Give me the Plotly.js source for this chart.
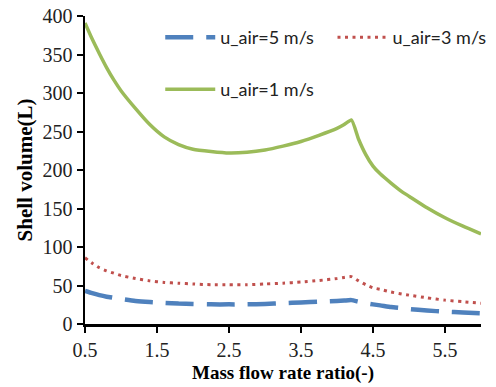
<!DOCTYPE html>
<html>
<head>
<meta charset="utf-8">
<script src="https://cdn.plot.ly/plotly-3.0.1.min.js"></script>
<style>
  html, body { margin: 0; padding: 0; background: #ffffff; }
  #chart { width: 496px; height: 387px; }
</style>
</head>
<body>
<div id="chart"></div>
<script>
// Mass flow rate ratio (-)
const massRatio = [0.5, 0.6, 0.7, 0.8, 0.9, 1.0, 1.2, 1.4, 1.6, 1.8, 2.0, 2.25, 2.5, 2.75, 3.0,
                   3.25, 3.5, 3.75, 4.0, 4.1, 4.2, 4.3, 4.4, 4.5, 4.6, 4.75, 4.9, 5.0, 5.25, 5.5, 5.75, 6.0];

// Shell volume (L) for each air velocity
const volAir5 = [43, 40, 37.5, 35.5, 34, 32.5, 30, 28.5, 27.5, 26.5, 26, 25.5, 25.5, 25.5, 26,
                 27, 28, 29, 30, 30.5, 31, 29, 27, 25.5, 24.2, 22, 20.5, 19.5, 17.5, 16, 15, 14];
const volAir3 = [86, 79, 73, 69, 66, 63, 59, 56, 54, 53, 52, 51, 51, 51, 52,
                 53, 54.5, 56.5, 59, 60.5, 61.5, 56, 51, 47, 45, 41.5, 39, 37.5, 34, 31, 29, 27];
const volAir1 = [391, 370, 351, 333, 317, 303, 280, 259, 243, 233, 227, 224, 222, 223, 226,
                 231, 237, 245, 254, 259, 265, 240, 220, 205, 195, 183, 172, 166, 151, 138, 127, 117];

const seriesNames = ['u_air=5 m/s', 'u_air=3 m/s', 'u_air=1 m/s'];
const xTicks = [0.5, 1.5, 2.5, 3.5, 4.5, 5.5];
const yTicks = [0, 50, 100, 150, 200, 250, 300, 350, 400];

const serif = 'Liberation Serif, Times New Roman, serif';
const sans = 'Lato, Noto Sans, sans-serif';

const traces = [
  { x: massRatio, y: volAir5, name: seriesNames[0], mode: 'lines', legend: 'legend',
    line: { color: '#4F81BD', width: 4.5, dash: '28px,13px', shape: 'spline', smoothing: 0.5 } },
  { x: massRatio, y: volAir3, name: seriesNames[1], mode: 'lines', legend: 'legend2',
    line: { color: '#C0504D', width: 3, dash: '3px,4.5px', shape: 'spline', smoothing: 0.5 } },
  { x: massRatio, y: volAir1, name: seriesNames[2], mode: 'lines', legend: 'legend3',
    line: { color: '#9BBB59', width: 3.5, shape: 'spline', smoothing: 0.5 } }
];

const axisCommon = {
  showgrid: false, zeroline: false, showline: true, linecolor: '#000000', linewidth: 2.5,
  ticks: 'outside', ticklen: 6, tickwidth: 2, tickcolor: '#000000',
  tickfont: { family: serif, size: 20, color: '#222222' }
};

// one single-entry legend per series, laid out as two rows
const legendBox = (x, y) => ({
  orientation: 'h', x: x, y: y, xanchor: 'left', yanchor: 'top',
  font: { family: sans, size: 18, color: '#222222' }, itemwidth: 50,
  bgcolor: 'rgba(0,0,0,0)'
});

const layout = {
  width: 496, height: 387,
  margin: { l: 85, r: 15, t: 16, b: 63, autoexpand: false },
  paper_bgcolor: '#ffffff', plot_bgcolor: '#ffffff',
  showlegend: true,
  xaxis: Object.assign({}, axisCommon, {
    range: [0.5, 6.0], tickmode: 'array', tickvals: xTicks, ticktext: xTicks.map(v => v.toFixed(1)),
    title: { text: 'Mass flow rate ratio(-)', font: { family: serif, size: 19, color: '#000000', weight: 'bold' }, standoff: 6 }
  }),
  yaxis: Object.assign({}, axisCommon, {
    range: [0, 400], tickmode: 'array', tickvals: yTicks,
    title: { text: 'Shell volume(L)', font: { family: serif, size: 21, color: '#000000', weight: 'bold' }, standoff: 4 }
  }),
  legend: legendBox(0.19, 0.99),
  legend2: legendBox(0.625, 0.99),
  legend3: legendBox(0.19, 0.821)
};

Plotly.newPlot('chart', traces, layout, { displayModeBar: false, staticPlot: true });
</script>
</body>
</html>
